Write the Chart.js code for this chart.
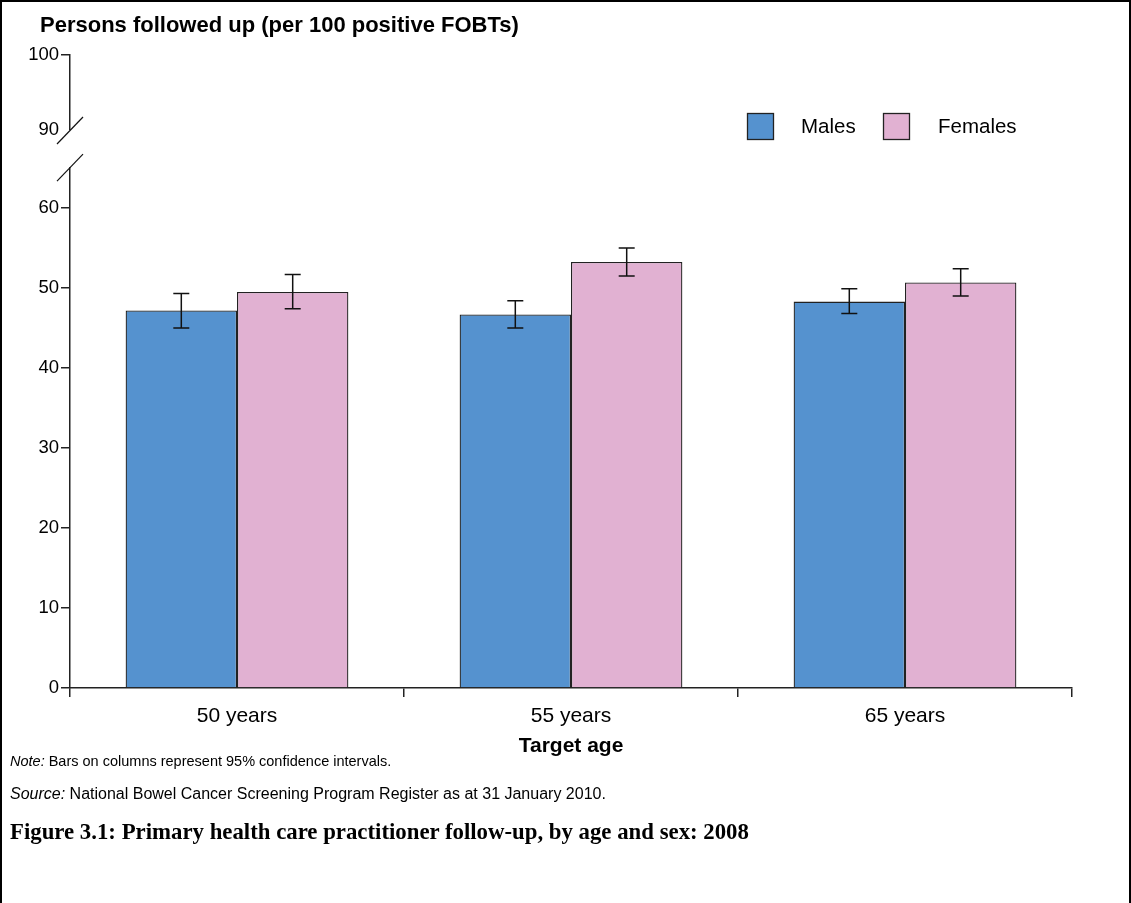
<!DOCTYPE html>
<html>
<head>
<meta charset="utf-8">
<script src="https://cdn.jsdelivr.net/npm/chart.js@4.4.1/dist/chart.umd.min.js"></script>
<style>
  html, body { margin: 0; padding: 0; background: #fff; }
  #wrap { position: relative; width: 1131px; height: 903px; overflow: hidden; font-family: "Liberation Sans", Arial, sans-serif; }
  #c { position: absolute; left: 0; top: 0; }
  #frame { position: absolute; left: 0; top: 0; width: 1131px; height: 910px; box-sizing: border-box;
           border-left: 2.5px solid #000; border-right: 2.5px solid #000; border-top: 2.5px solid #000; pointer-events: none; }
  .txt { position: absolute; white-space: nowrap; color: #000; }
  #ytitle { left: 40px; top: 13px; font-size: 22px; font-weight: bold; line-height: 24px; }
  #note { left: 10px; top: 752px; font-size: 14.5px; line-height: 18px; }
  #source { left: 10px; top: 784px; font-size: 16px; line-height: 19px; }
  #caption { left: 10px; top: 818px; font-size: 22.8px; line-height: 28px; font-weight: bold; font-family: "Liberation Serif", "Times New Roman", serif; }
</style>
</head>
<body>
<div id="wrap">
  <canvas id="c" width="1131" height="903"></canvas>
  <div class="txt" id="ytitle">Persons followed up (per 100 positive FOBTs)</div>
  <div class="txt" id="note"><i>Note:</i> Bars on columns represent 95% confidence intervals.</div>
  <div class="txt" id="source"><i>Source:</i> National Bowel Cancer Screening Program Register as at 31 January 2010.</div>
  <div class="txt" id="caption">Figure 3.1: Primary health care practitioner follow-up, by age and sex: 2008</div>
  <div id="frame"></div>
</div>
<script>
// ---- data ----
const categories = ['50 years', '55 years', '65 years'];
const males = [47.2, 46.7, 48.3];
const malesLow = [45.0, 45.0, 46.8];
const malesHigh = [49.3, 48.4, 49.9];
const females = [49.5, 53.25, 50.7];
const femalesLow = [47.4, 51.5, 49.0];
const femalesHigh = [51.7, 55.0, 52.4];
const yTickLabels = ['0', '10', '20', '30', '40', '50', '60', '90', '100'];

// ---- broken axis mapping (scale positions for labels above the break) ----
const POS_90 = 69.75;
const POS_100 = 79.125;
const yTickPositions = [0, 10, 20, 30, 40, 50, 60, POS_90, POS_100];
const BREAK_LOW = 65.1;   // where the axis resumes below the break

const AXIS = '#222';
const FONT = '"Liberation Sans", Arial, sans-serif';

const errorBars = [
  { low: malesLow, high: malesHigh },
  { low: femalesLow, high: femalesHigh }
];

const extras = {
  id: 'extras',
  afterDatasetsDraw(chart) {
    const ctx = chart.ctx;
    const y = chart.scales.y;
    ctx.save();
    ctx.strokeStyle = '#111';
    ctx.lineWidth = 1.5;
    errorBars.forEach((eb, di) => {
      const meta = chart.getDatasetMeta(di);
      meta.data.forEach((bar, i) => {
        const x = bar.x;
        const yl = y.getPixelForValue(eb.low[i]);
        const yh = y.getPixelForValue(eb.high[i]);
        ctx.beginPath();
        ctx.moveTo(x, yl); ctx.lineTo(x, yh);
        ctx.moveTo(x - 8, yl); ctx.lineTo(x + 8, yl);
        ctx.moveTo(x - 8, yh); ctx.lineTo(x + 8, yh);
        ctx.stroke();
      });
    });
    ctx.restore();
  },
  afterDraw(chart) {
    const ctx = chart.ctx;
    const y = chart.scales.y;
    const ax = chart.chartArea.left;
    const yUp = y.getPixelForValue(POS_90);
    const yLo = y.getPixelForValue(BREAK_LOW);
    ctx.save();
    ctx.fillStyle = '#fff';
    ctx.fillRect(ax - 3, yUp, 6, yLo - yUp);
    ctx.strokeStyle = '#111';
    ctx.lineWidth = 1.2;
    [yUp, yLo].forEach(cy => {
      ctx.beginPath();
      ctx.moveTo(ax - 13, cy + 14);
      ctx.lineTo(ax + 13, cy - 13);
      ctx.stroke();
    });
    // legend
    const ds = chart.data.datasets;
    const items = [{ x: 747, tx: 801 }, { x: 883, tx: 938 }];
    ctx.font = '20.5px ' + FONT;
    ctx.textBaseline = 'middle';
    ctx.textAlign = 'left';
    ds.forEach((d, i) => {
      const it = items[i];
      ctx.fillStyle = d.backgroundColor;
      ctx.fillRect(it.x, 113, 27, 27);
      ctx.strokeStyle = '#222';
      ctx.lineWidth = 1.3;
      ctx.strokeRect(it.x + 0.5, 113.5, 26, 26);
      ctx.fillStyle = '#000';
      ctx.fillText(d.label, it.tx, 127);
    });
    ctx.restore();
  }
};

new Chart(document.getElementById('c'), {
  type: 'bar',
  data: {
    labels: categories,
    datasets: [
      { label: 'Males', data: males, backgroundColor: '#5592CF', borderColor: '#222', borderWidth: 1.3, borderSkipped: 'bottom' },
      { label: 'Females', data: females, backgroundColor: '#E1B1D2', borderColor: '#222', borderWidth: 1.3, borderSkipped: 'bottom' }
    ]
  },
  options: {
    responsive: false,
    animation: false,
    devicePixelRatio: 1,
    layout: { padding: { left: 0, top: 55, right: 59, bottom: 144 } },
    plugins: { legend: { display: false }, tooltip: { enabled: false } },
    datasets: { bar: { categoryPercentage: 0.667, barPercentage: 1.0 } },
    scales: {
      x: {
        afterFit(s) { s.height = 71; },
        grid: { display: true, drawOnChartArea: false, offset: true, tickLength: 9, color: AXIS, lineWidth: 1.5 },
        border: { display: true, color: AXIS, width: 1.5 },
        ticks: { color: '#000', font: { family: FONT, size: 21 }, padding: 7, maxRotation: 0 },
        title: { display: true, text: 'Target age', color: '#000', font: { family: FONT, size: 21, weight: 'bold' }, padding: { top: 0, bottom: 0 } }
      },
      y: {
        min: 0,
        max: POS_100,
        afterFit(s) { s.width = 70; },
        afterBuildTicks(s) { s.ticks = yTickPositions.map(v => ({ value: v })); },
        grid: {
          display: true, drawOnChartArea: false, tickLength: 9, lineWidth: 1.5,
          color: (c) => (c.tick && c.tick.value === POS_90) ? 'rgba(0,0,0,0)' : AXIS
        },
        border: { display: true, color: AXIS, width: 1.5 },
        ticks: {
          color: '#000', font: { family: FONT, size: 18.5 }, padding: 2,
          callback: (v, i) => yTickLabels[i]
        }
      }
    }
  },
  plugins: [extras]
});
</script>
</body>
</html>
